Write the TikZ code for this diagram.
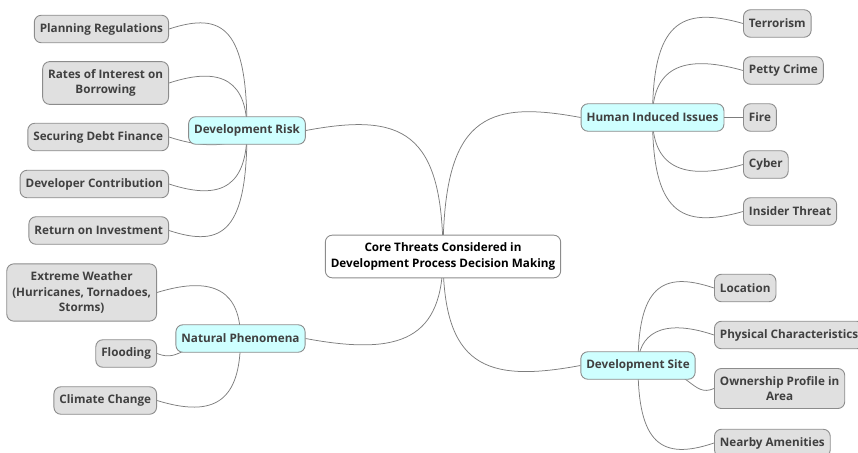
\documentclass[tikz,border=0pt]{standalone}
\usepackage{fontspec}
\setmainfont{Open Sans}
\usetikzlibrary{calc}
\definecolor{leaffill}{RGB}{224,224,224}
\definecolor{midfill}{RGB}{206,255,255}
\definecolor{boxline}{RGB}{140,140,140}
\definecolor{wirecol}{RGB}{125,125,125}
\definecolor{txt}{RGB}{64,64,64}
\pgfdeclarelayer{bg}
\pgfsetlayers{bg,main}
\tikzset{
  base/.style={draw=boxline, line width=0.9pt, rounded corners=7pt, align=center,
    font=\fontsize{11.7}{15.5}\selectfont\bfseries, inner xsep=5.5pt, inner ysep=7.75pt,
    minimum height=27.5pt, text=txt},
  leaf/.style={base, fill=leaffill},
  mid/.style={base, fill=midfill},
  rootbox/.style={base, fill=white, text=black},
  wire/.style={draw=wirecol, line width=0.75pt},
}
\newcommand\farlink[3]{%
  \draw[wire] let \p1=(#1.center), \p2=(#2.#3) in (\p1) .. controls (\x1,\y2) and ({\x1+0.3*(\x2-\x1)},{\y2+18*sign(\y2-\y1)}) .. (\p2);}
\newcommand\nearlink[3]{%
  \draw[wire] let \p1=(#1.center), \p2=(#2.#3) in (\p1) .. controls ({\x1+0.7*(\x2-\x1)},\y1) and ({\x1+0.7*(\x2-\x1)},{\y2+10*sign(\y2-\y1)}) .. (\p2);}
\begin{document}
\begin{tikzpicture}[x=1pt,y=-1pt]
\useasboundingbox (0,0) rectangle (858,452);
% root and main branches
\node[rootbox] (root) at (443,256.5) {Core Threats Considered in\\Development Process Decision Making};
\node[mid] (devrisk) at (247,130.5) {Development Risk};
\node[mid] (natphen) at (240.5,338.5) {Natural Phenomena};
\node[mid] (human) at (652.5,117.5) {Human Induced Issues};
\node[mid] (devsite) at (638,365.5) {Development Site};
% left leaves
\node[leaf,anchor=east] (plan) at (169,29) {Planning Regulations};
\node[leaf,anchor=east] (rates) at (169,83) {Rates of Interest on\\Borrowing};
\node[leaf,anchor=east] (secure) at (169,137) {Securing Debt Finance};
\node[leaf,anchor=east] (contrib) at (169,184) {Developer Contribution};
\node[leaf,anchor=east] (roi) at (169,230.5) {Return on Investment};
\node[leaf,anchor=east] (weather) at (157,292.5) {Extreme Weather\\(Hurricanes, Tornadoes,\\Storms)};
\node[leaf,anchor=east] (flood) at (157,353.5) {Flooding};
\node[leaf,anchor=east] (climate) at (157,400.5) {Climate Change};
% right leaves
\node[leaf,anchor=west] (terror) at (743,23.5) {Terrorism};
\node[leaf,anchor=west] (petty) at (743,70.5) {Petty Crime};
\node[leaf,anchor=west] (fire) at (743,117.5) {Fire};
\node[leaf,anchor=west] (cyber) at (743,164.5) {Cyber};
\node[leaf,anchor=west] (insider) at (743,211.5) {Insider Threat};
\node[leaf,anchor=west] (location) at (714,288) {Location};
\node[leaf,anchor=west] (physical) at (714,335) {Physical Characteristics};
\node[leaf,anchor=west] (owner) at (714,388.5) {Ownership Profile in\\Area};
\node[leaf,anchor=west] (amen) at (714,443) {Nearby Amenities};
\begin{pgfonlayer}{bg}
\farlink{root}{devrisk}{east}
\farlink{root}{natphen}{east}
\farlink{root}{human}{west}
\farlink{root}{devsite}{west}
\farlink{devrisk}{plan}{east}
\farlink{devrisk}{rates}{east}
\farlink{devrisk}{secure}{east}
\farlink{devrisk}{contrib}{east}
\farlink{devrisk}{roi}{east}
\farlink{natphen}{weather}{east}
\nearlink{natphen}{flood}{east}
\farlink{natphen}{climate}{east}
\farlink{human}{terror}{west}
\farlink{human}{petty}{west}
\farlink{human}{fire}{west}
\farlink{human}{cyber}{west}
\farlink{human}{insider}{west}
\farlink{devsite}{location}{west}
\farlink{devsite}{physical}{west}
\nearlink{devsite}{owner}{west}
\farlink{devsite}{amen}{west}
\end{pgfonlayer}
\end{tikzpicture}
\end{document}
